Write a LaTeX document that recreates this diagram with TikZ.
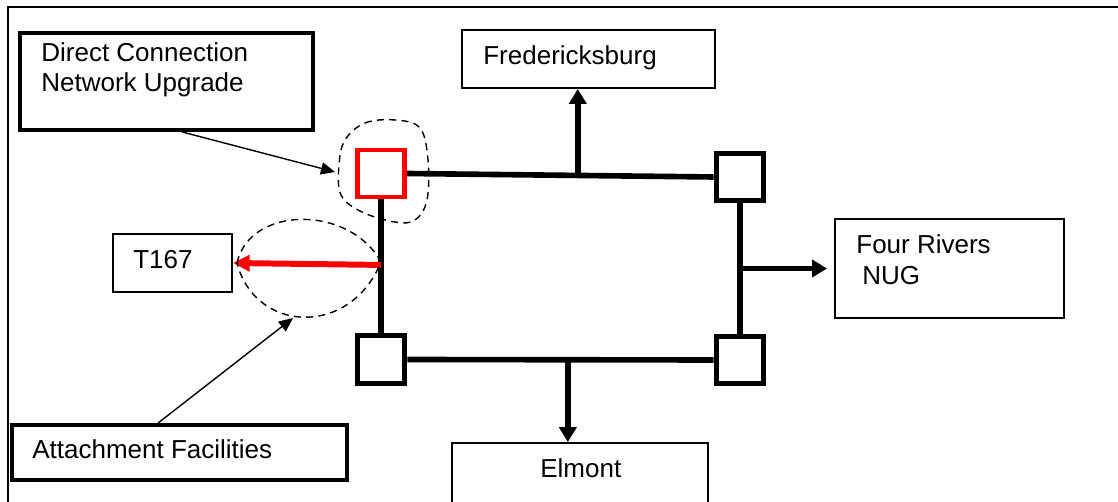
\documentclass[tikz,border=0pt]{standalone}
\usepackage{fontspec}
\setmainfont{Liberation Sans}
\usetikzlibrary{arrows.meta,calc}

\begin{document}
\begin{tikzpicture}[x=0.02cm,y=-0.02cm,
    box/.style={draw,line width=1.1pt,inner sep=0pt},
    thickbox/.style={draw,line width=2.2pt,inner sep=0pt},
    bus/.style={draw,line width=3pt,minimum size=0.95cm,inner sep=0pt},
    txt/.style={anchor=base west,inner sep=0pt,font=\fontsize{14.8}{17}\selectfont},
    feed/.style={line width=3.2pt,-{Triangle[length=8.5pt,width=9.7pt]}},
    pointer/.style={line width=0.8pt,-{Triangle[length=8pt,width=7pt]}},
    zone/.style={line width=0.8pt,dash pattern=on 4pt off 3pt}]
    \clip (0,0) rectangle (1118,502);
    \draw[line width=1.3pt] (8,7) rectangle (1140,530);

    % boxes
    \node[thickbox,minimum width=5.86cm,minimum height=1.94cm] (dcbox) at (166.5,81.5) {};
    \node[box,minimum width=5.06cm,minimum height=1.16cm] (fbox) at (588.5,59) {};
    \node[box,minimum width=2.38cm,minimum height=1.16cm] (t167) at (172.5,263) {};
    \node[box,minimum width=4.58cm,minimum height=1.98cm] (frbox) at (949.5,268.5) {};
    \node[box,minimum width=5.12cm,minimum height=1.94cm] (elbox) at (580,491.5) {};
    \node[thickbox,minimum width=6.70cm,minimum height=1.10cm] (afbox) at (179.5,452.5) {};

    \node[txt] (dca) at (41,62) {Direct Connection};
    \node[txt] (dcb) at (41,92) {Network Upgrade};
    \node[txt] (ftxt) at (483,65) {Fredericksburg};
    \node[txt] (ttxt) at (133,269) {T167};
    \node[txt] (fra) at (856,254) {Four Rivers};
    \node[txt] (frb) at (862,285) {NUG};
    \node[txt] (etxt) at (540,478) {Elmont};
    \node[txt] (atxt) at (32,459) {Attachment Facilities};

    % buses
    \node[bus,draw=red,line width=2.8pt,minimum size=0.94cm] (rsq) at (381,173.5) {};
    \node[bus] (tr) at (740,177) {};
    \node[bus] (bl) at (381,359.5) {};
    \node[bus] (br) at (740,360) {};

    \draw[line width=3.2pt] (rsq.east) -- (tr.west);
    \draw[line width=3.2pt] (bl.east) -- (br.west);
    \draw[line width=3.2pt] (rsq.south) -- (bl.north);
    \draw[line width=3.2pt] (tr.south) -- (br.north);

    \coordinate (ftap) at ($(rsq.east)!0.557!(tr.west)$);
    \coordinate (etap) at ($(bl.east)!0.524!(br.west)$);
    \coordinate (rtap) at ($(tr.south)!0.5!(br.north)$);
    \coordinate (ttap) at ($(rsq.south)!0.49!(bl.north)$);

    \draw[feed] (ftap) -- (ftap |- fbox.south);
    \draw[feed] (etap) -- (etap |- elbox.north);
    \draw[feed,shorten >=4pt] (rtap) -- (rtap -| frbox.west);
    \draw[red,line width=3.4pt,-{Triangle[length=9.5pt,width=9pt]}] (ttap) -- (t167.east);

    % dashed zones
    \draw[zone] plot[smooth cycle,tension=0.6] coordinates {(345,140) (365,123) (395,120) (420,128) (428,160) (427,200) (415,220) (395,222) (362,212) (341,195) (339,165)};
    \draw[zone] (237,263) .. controls (250,205) and (350,205) .. (381,262) .. controls (350,338) and (255,333) .. (237,263);

    \coordinate (dcend) at (335,172);
    \coordinate (afend) at (293,318);
    \draw[pointer] ([shift={(15.5,0)}]dcbox.south) -- (dcend);
    \draw[pointer] ([shift={(-21.5,0)}]afbox.north) -- (afend);
\end{tikzpicture}
\end{document}
